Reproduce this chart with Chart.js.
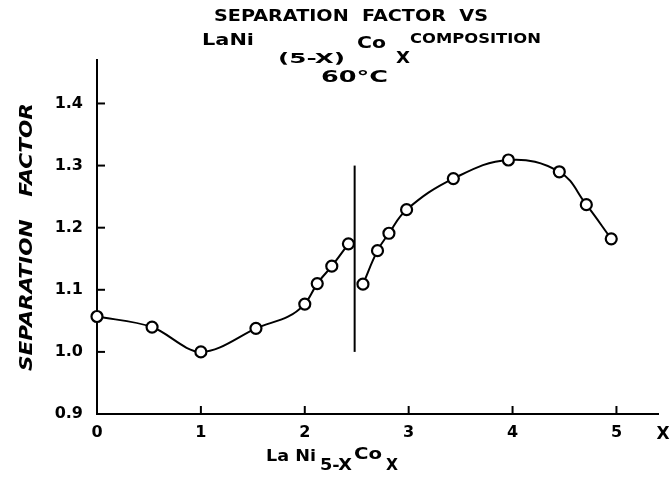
<!DOCTYPE html>
<html>
<head>
<meta charset="utf-8">
<script src="https://cdn.jsdelivr.net/npm/chart.js@4.4.1/dist/chart.umd.min.js"></script>
<style>
    html, body { margin: 0; padding: 0; background: #fff; }
    #wrap { width: 670px; height: 481px; }
</style>
</head>
<body>
<div id="wrap"><canvas id="chart" width="670" height="481"></canvas></div>
<script>
// values
const leftX = [0, 0.53, 1.0, 1.53, 2.0, 2.12, 2.26, 2.42];
const leftFactor = [1.057, 1.040, 1.000, 1.038, 1.077, 1.110, 1.138, 1.174];
const rightX = [2.56, 2.70, 2.81, 2.98, 3.43, 3.96, 4.45, 4.71, 4.95];
const rightFactor = [1.109, 1.163, 1.191, 1.229, 1.279, 1.309, 1.290, 1.237, 1.182];
const boundaryX = [2.48, 2.48];
const boundaryFactor = [1.0, 1.30];
const xTicks = [0, 1, 2, 3, 4, 5];
const yTicks = [0.9, 1.0, 1.1, 1.2, 1.3, 1.4];

const toPoints = (xs, ys) => xs.map((x, i) => ({ x, y: ys[i] }));

const tickFont = { family: 'DejaVu Sans', size: 16, weight: 'bold' };

// stretch text between two x positions, like the wide hand lettering
function fitText(ctx, text, x0, x1, y) {
    const w = ctx.measureText(text).width;
    ctx.save();
    ctx.textAlign = 'left';
    ctx.translate(x0, y);
    ctx.scale((x1 - x0) / w, 1);
    ctx.fillText(text, 0, 0);
    ctx.restore();
}

const labelsPlugin = {
    id: 'labels',
    afterDraw(chart) {
        const ctx = chart.ctx;
        const xs = chart.scales.x;
        const ys = chart.scales.y;
        ctx.save();
        ctx.fillStyle = '#000';
        ctx.strokeStyle = '#000';
        ctx.lineWidth = 2;

        // inward tick marks
        xTicks.slice(1).forEach(v => {
            const px = xs.getPixelForValue(v);
            ctx.beginPath();
            ctx.moveTo(px, ys.bottom);
            ctx.lineTo(px, ys.bottom - 8);
            ctx.stroke();
        });
        yTicks.slice(1).forEach(v => {
            const py = ys.getPixelForValue(v);
            ctx.beginPath();
            ctx.moveTo(xs.left, py);
            ctx.lineTo(xs.left + 8, py);
            ctx.stroke();
        });

        // title
        ctx.textBaseline = 'alphabetic';
        ctx.font = 'bold 16px "DejaVu Sans"';
        fitText(ctx, 'SEPARATION  FACTOR  VS', 214, 488, 21);
        ctx.font = 'bold 15px "DejaVu Sans"';
        fitText(ctx, 'LaNi', 202, 254, 45);
        ctx.font = 'bold 14px "DejaVu Sans"';
        fitText(ctx, '(5-X)', 278, 345, 63);
        ctx.font = 'bold 15px "DejaVu Sans"';
        fitText(ctx, 'Co', 357, 386, 48);
        fitText(ctx, 'X', 396, 410, 63);
        ctx.font = 'bold 14px "DejaVu Sans"';
        fitText(ctx, 'COMPOSITION', 410, 541, 43);
        ctx.font = 'bold 16px "DejaVu Sans"';
        fitText(ctx, '60°C', 321, 388, 82);

        // x axis title and variable
        ctx.font = 'bold 15px "DejaVu Sans"';
        fitText(ctx, 'La Ni', 266, 316, 461);
        fitText(ctx, '5-X', 320, 352, 470);
        fitText(ctx, 'Co', 354, 382, 459);
        fitText(ctx, 'X', 386, 398, 470);
        ctx.font = 'bold 17px "DejaVu Sans"';
        ctx.textAlign = 'center';
        ctx.fillText('X', xs.right + 5, ys.bottom + 25);

        // y axis title
        ctx.translate(25, 237);
        ctx.rotate(-Math.PI / 2);
        ctx.font = 'italic bold 17px "DejaVu Sans"';
        fitText(ctx, 'SEPARATION   FACTOR', -134, 134, 7);
        ctx.restore();
    }
};

const lineStyle = {
    borderColor: '#000',
    borderWidth: 2,
    backgroundColor: '#fff',
    pointBackgroundColor: '#fff',
    pointBorderColor: '#000',
    pointBorderWidth: 2.2,
    pointRadius: 5.5,
    showLine: true
};

new Chart(document.getElementById('chart').getContext('2d'), {
    type: 'scatter',
    data: {
        datasets: [
            { ...lineStyle, data: toPoints(leftX, leftFactor), cubicInterpolationMode: 'monotone' },
            { ...lineStyle, data: toPoints(rightX, rightFactor), tension: 0.4 },
            { ...lineStyle, data: toPoints(boundaryX, boundaryFactor), pointRadius: 0, tension: 0 }
        ]
    },
    options: {
        responsive: false,
        animation: false,
        clip: false,
        layout: { padding: { left: 37, right: 12, top: 60, bottom: 17 } },
        plugins: {
            legend: { display: false },
            tooltip: { enabled: false }
        },
        scales: {
            x: {
                type: 'linear',
                min: 0,
                max: 5.4,
                afterFit: s => { s.height = 50; },
                afterBuildTicks: s => { s.ticks = xTicks.map(v => ({ value: v })); },
                grid: { display: false, drawTicks: false },
                border: { display: true, color: '#000', width: 2 },
                ticks: { color: '#000', font: tickFont, padding: 9, callback: v => String(v) }
            },
            y: {
                type: 'linear',
                min: 0.9,
                max: 1.47,
                afterFit: s => { s.width = 60; },
                afterBuildTicks: s => { s.ticks = yTicks.map(v => ({ value: v })); },
                grid: { display: false, drawTicks: false },
                border: { display: true, color: '#000', width: 2 },
                ticks: { color: '#000', font: tickFont, padding: 14, callback: v => v.toFixed(1) }
            }
        }
    },
    plugins: [labelsPlugin]
});
</script>
</body>
</html>
